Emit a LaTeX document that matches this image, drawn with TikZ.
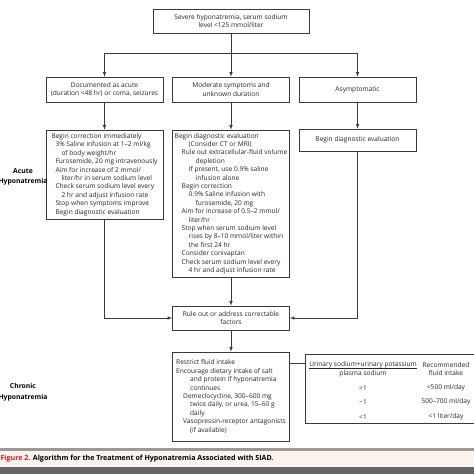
\documentclass[tikz,border=0pt]{standalone}
\usepackage{fontspec}
\setmainfont{Open Sans}
\usepackage{xcolor}
\usetikzlibrary{arrows.meta}
\definecolor{nejmred}{HTML}{C8202F}
\definecolor{bandpink}{HTML}{FBF3EE}
\definecolor{boxline}{HTML}{3A3A3A}
\newcommand{\indt}[1]{\hspace*{#1pt}}

\begin{document}
\begin{tikzpicture}[x=1pt,y=-1pt,
          font=\fontsize{6.6}{8.4}\selectfont,
          box/.style={draw=boxline,line width=0.6pt,minimum width=117pt,inner sep=2pt,align=center,text=black!85},
          txtbox/.style={box,align=left},
          side/.style={font=\fontsize{6.8}{10.5}\selectfont\bfseries,align=center},
          arr/.style={->,>=latex,draw=boxline,line width=0.6pt}]
          \clip (0,0) rectangle (474,474);
          \fill[white] (0,0) rectangle (474,474);
          \node[box,minimum width=156pt,minimum height=24pt](top) at (231,21){Severe hyponatremia, serum sodium\\level <125 mmol/liter};
          \node[box,minimum height=25pt](acute) at (104.5,89.5){Documented as acute\\(duration <48 hr) or coma, seizures};
          \node[box,minimum height=25pt](moderate) at (231,89.5){Moderate symptoms and\\unknown duration};
          \node[box,minimum height=25pt](asym) at (357.5,89.5){Asymptomatic};
          \node[txtbox,minimum height=89pt](acutetx) at (104.5,174.5){Begin correction immediately\\
            \indt{4}3\% Saline infusion at 1--2 ml/kg\\
            \indt{10}of body weight/hr\\
            \indt{4}Furosemide, 20 mg intravenously\\
            \indt{4}Aim for increase of 2 mmol/\\
            \indt{10}liter/hr in serum sodium level\\
            \indt{4}Check serum sodium level every\\
            \indt{10}2 hr and adjust infusion rate\\
            \indt{4}Stop when symptoms improve\\
            \indt{4}Begin diagnostic evaluation};
          \node[txtbox,minimum height=147pt](modtx) at (231,203.5){Begin diagnostic evaluation\\
            \indt{14}(Consider CT or MRI)\\
            \indt{7}Rule out extracellular-fluid volume\\
            \indt{21}depletion\\
            \indt{14}If present, use 0.9\% saline\\
            \indt{21}infusion alone\\
            \indt{7}Begin correction\\
            \indt{14}0.9\% Saline infusion with\\
            \indt{21}furosemide, 20 mg\\
            \indt{7}Aim for increase of 0.5--2 mmol/\\
            \indt{14}liter/hr\\
            \indt{7}Stop when serum sodium level\\
            \indt{14}rises by 8--10 mmol/liter within\\
            \indt{14}the first 24 hr\\
            \indt{7}Consider conivaptan\\
            \indt{7}Check serum sodium level every\\
            \indt{14}4 hr and adjust infusion rate};
          \node[box,minimum height=22pt](asymtx) at (357.5,140){Begin diagnostic evaluation};
          \node[box,minimum height=24pt](correct) at (231,318){Rule out or address correctable\\factors};
          \node[txtbox,minimum height=89pt](restrict) at (231,396.5){Restrict fluid intake\\
            Encourage dietary intake of salt\\
            \indt{14}and protein if hyponatremia\\
            \indt{14}continues\\
            \indt{7}Demeclocycline, 300--600 mg\\
            \indt{14}twice daily, or urea, 15--60 g\\
            \indt{14}daily\\
            \indt{7}Vasopressin-receptor antagonists\\
            \indt{14}(if available)};
          \node[box,minimum width=190pt,minimum height=69pt](ratio) at (400,388.5){};
          \node[text=black!85](ratiohead) at (363,369){\begin{tabular}{@{}c@{}}Urinary sodium+urinary potassium\\[-1pt]\hline\rule{0pt}{7pt}plasma sodium\end{tabular}};
          \node[text=black!85,align=center](intakehead) at (446,369){Recommended\\fluid intake};
          \node[text=black!85](r1) at (363,388){>1};
          \node[text=black!85](f1) at (446,388){<500 ml/day};
          \node[text=black!85](r2) at (363,402){\textasciitilde 1};
          \node[text=black!85](f2) at (446,402){500--700 ml/day};
          \node[text=black!85](r3) at (363,417){<1};
          \node[text=black!85](f3) at (446,417){<1 liter/day};
          \node[side](acutelbl) at (23,177){Acute\\Hyponatremia};
          \node[side](chroniclbl) at (23,392){Chronic\\Hyponatremia};
          \coordinate (fork) at (231,53);
          \draw[boxline,line width=0.6pt](top)--(fork);
          \draw[arr](fork)-|(acute); \draw[arr](fork)--(moderate); \draw[arr](fork)-|(asym);
          \draw[arr](acute)--(acutetx); \draw[arr](moderate)--(modtx); \draw[arr](asym)--(asymtx);
          \draw[arr](acutetx)|-(correct); \draw[arr](asymtx)|-(correct);
          \draw[arr](modtx)--(correct); \draw[arr](correct)--(restrict);
          \draw[boxline,line width=0.6pt](restrict.east|-0,363)--(ratio.west|-0,363);
          \fill[black!40] (0,447.5) rectangle (474,451);
          \fill[bandpink] (0,451) rectangle (474,467);
          \fill[black!60] (0,467) rectangle (474,474);
          \node[anchor=west,font=\fontsize{7.1}{9}\selectfont\bfseries](caption) at (-3,459){\textcolor{nejmred}{Figure 2.} Algorithm for the Treatment of Hyponatremia Associated with SIAD.};
        \end{tikzpicture}
\end{document}
